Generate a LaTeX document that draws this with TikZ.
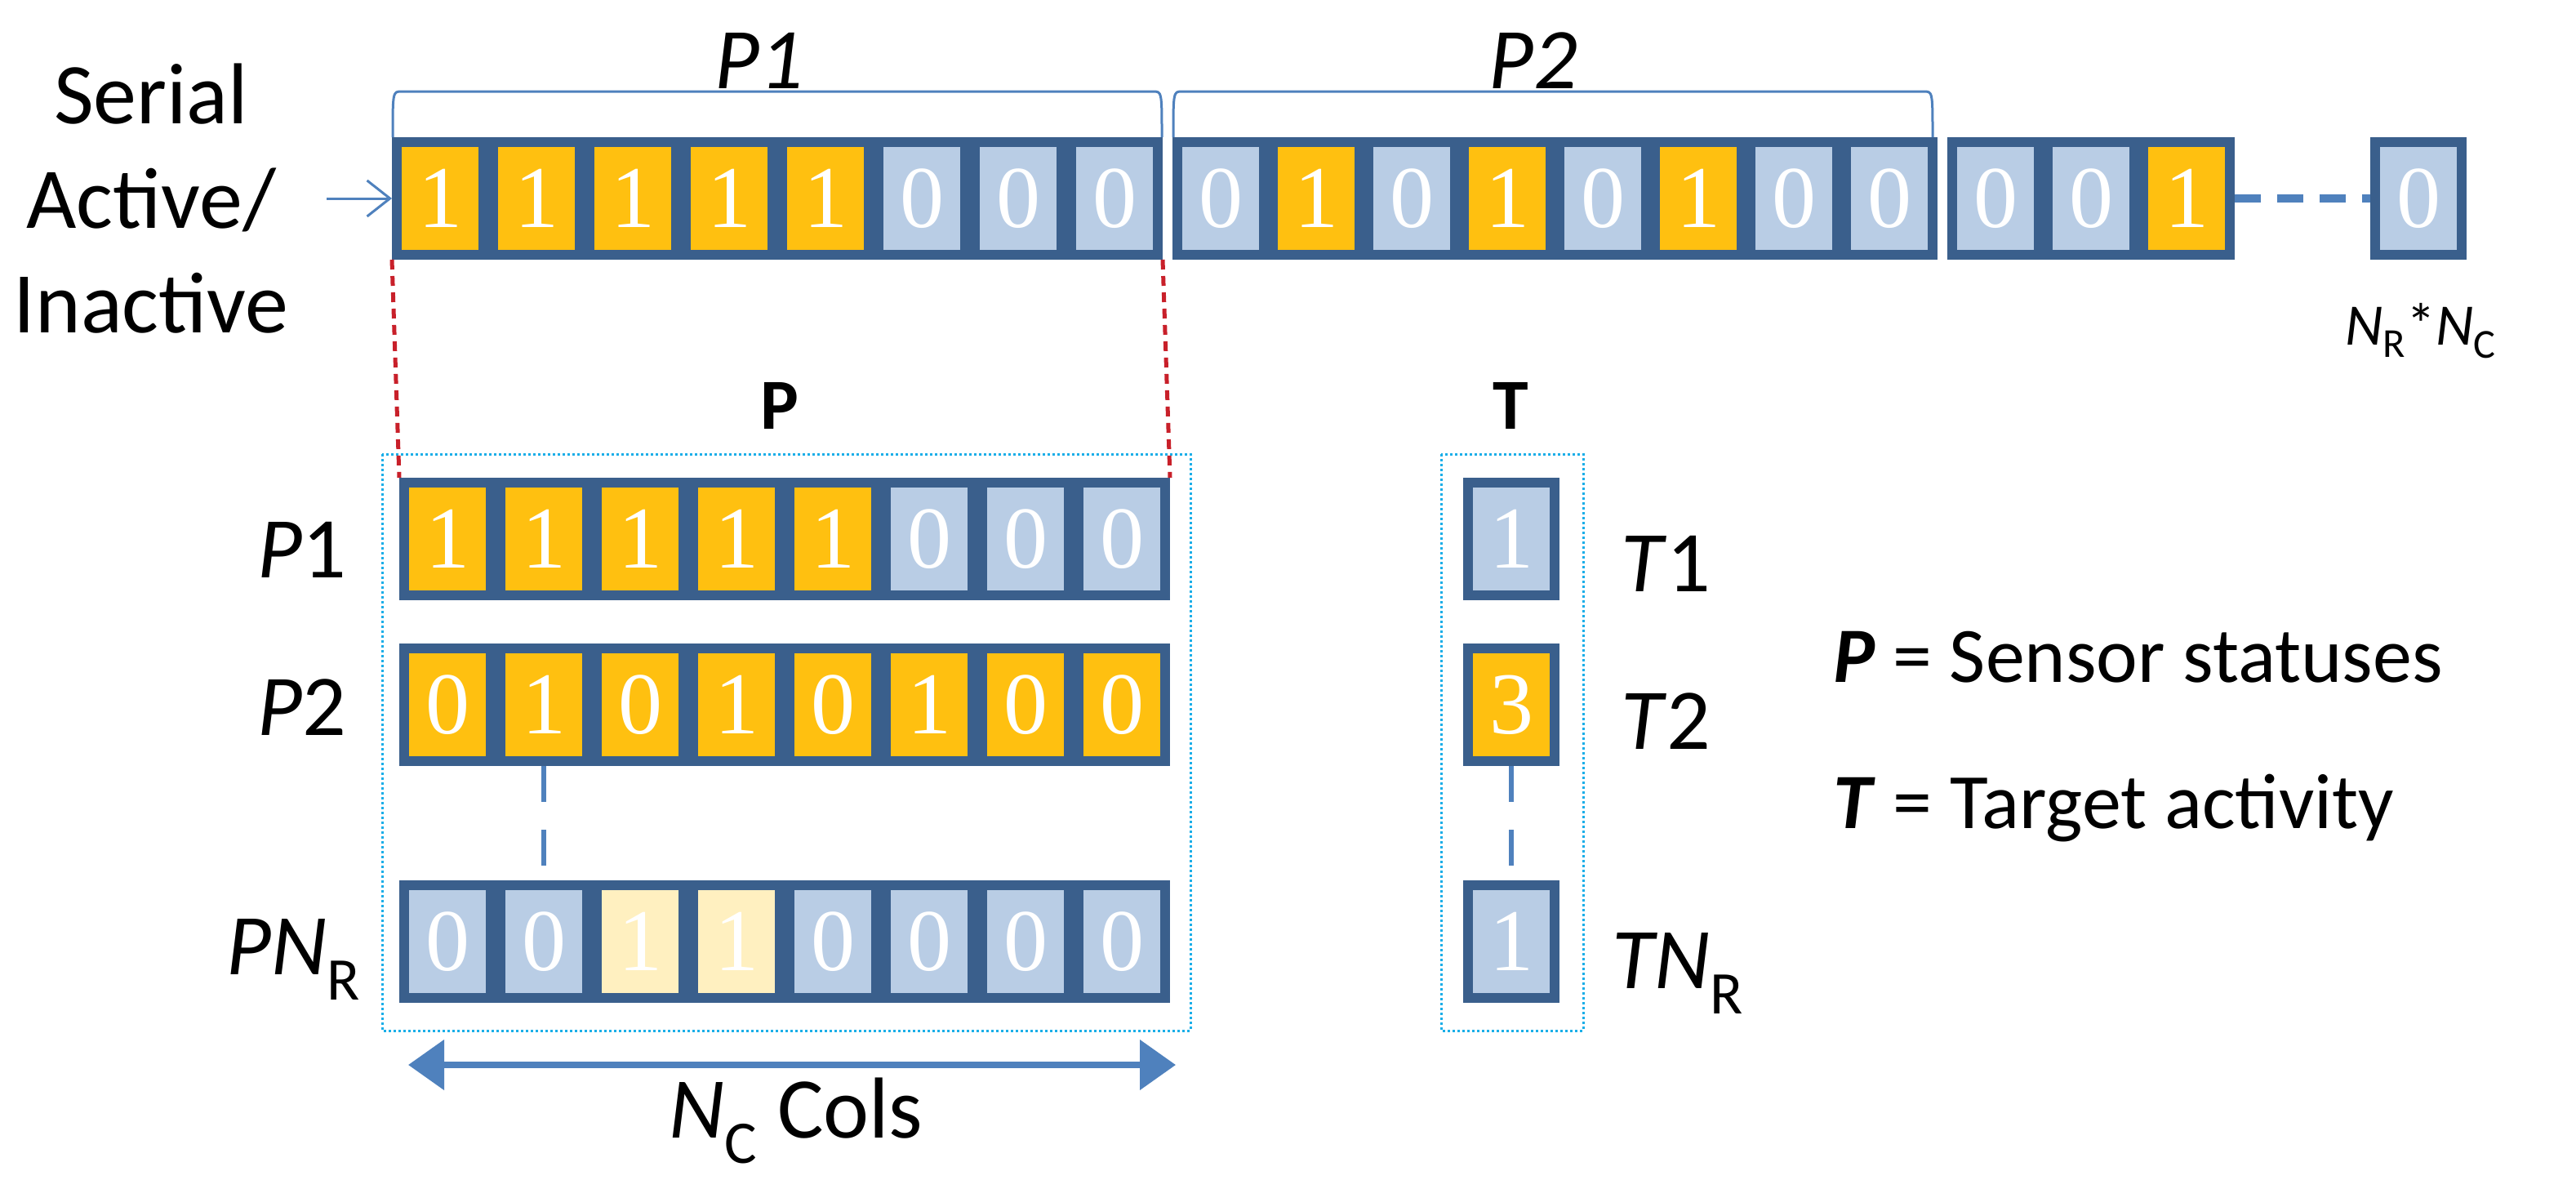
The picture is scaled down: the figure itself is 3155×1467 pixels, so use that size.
\documentclass[tikz,border=0pt]{standalone}
\usepackage{fontspec}
\setmainfont{Carlito}
\newfontfamily\digf{Liberation Serif}
\usetikzlibrary{arrows.meta}
\definecolor{co}{HTML}{FFC010}
\definecolor{cb}{HTML}{B9CDE5}
\definecolor{cy}{HTML}{FFF0C0}
\definecolor{bd}{HTML}{3A5F8C}
\definecolor{ln}{HTML}{4F81BD}
\definecolor{cy2}{HTML}{1AAEE8}
\definecolor{rd}{HTML}{C8202A}
\begin{document}
\begin{tikzpicture}[x=0.5pt,y=-0.5pt,
  cell/.style={draw=bd, line width=6pt, minimum width=53pt, minimum height=69pt, inner sep=0pt, text=white, font=\digf\fontsize{54}{54}\selectfont},
  lbl/.style={font=\fontsize{53}{60}\selectfont, inner sep=0pt},
  brc/.style={draw=ln, line width=1.5pt},
  reddot/.style={draw=rd, line width=2.5pt, dash pattern=on 6pt off 4pt},
  box/.style={draw=cy2, line width=1.5pt, dash pattern=on 1.5pt off 1.5pt},
  vdash/.style={draw=ln, line width=3pt, dash pattern=on 22pt off 17pt}]
\useasboundingbox (0,0) rectangle (3155,1467);
% serial row
\foreach \d/\c [count=\i] in {1/co,1/co,1/co,1/co,1/co,0/cb,0/cb,0/cb}
  \node[cell, fill=\c] (a\i) at ({539+118*(\i-1)},243) {\d};
\foreach \d/\c [count=\i] in {0/cb,1/co,0/cb,1/co,0/cb,1/co,0/cb,0/cb}
  \node[cell, fill=\c] (b\i) at ({1495+117*(\i-1)},243) {\d};
\foreach \d/\c [count=\i] in {0/cb,0/cb,1/co}
  \node[cell, fill=\c] (c\i) at ({2444+117*(\i-1)},243) {\d};
\node[cell, fill=cb] (last) at (2962,243) {0};
\draw[draw=ln, line width=5pt, dash pattern=on 16pt off 10pt] (c3.east) -- (last.west);
% braces
\draw[brc] (481,168) .. controls (481,112) .. (492,112) -- (1412,112) .. controls (1423,112) .. (1423,168);
\draw[brc] (1437,168) .. controls (1437,112) .. (1448,112) -- (2356,112) .. controls (2367,112) .. (2367,168);
\node[lbl, font=\itshape\fontsize{53}{60}\selectfont] (lp1) at (930,74) {P1};
\node[lbl, font=\itshape\fontsize{53}{60}\selectfont] (lp2) at (1878,74) {P2};
% serial label
\node[lbl, align=center, font=\fontsize{53}{64}\selectfont] (ser) at (185,243) {Serial\\Active/\\Inactive};
\coordinate (ain) at (400,243);
\draw[draw=ln, line width=1.5pt, -{Straight Barb[length=14pt,width=22pt]}] (ain) -- (a1.west);
\node[lbl, font=\fontsize{36}{40}\selectfont] (nrnc) at (2965,405) {\textit{N}\textsubscript{R}*\textit{N}\textsubscript{C}};
% matrix P
\foreach \d/\c [count=\i] in {1/co,1/co,1/co,1/co,1/co,0/cb,0/cb,0/cb}
  \node[cell, fill=\c] (p\i) at ({548+118*(\i-1)},660) {\d};
\foreach \d/\c [count=\i] in {0/co,1/co,0/co,1/co,0/co,1/co,0/co,0/co}
  \node[cell, fill=\c] (q\i) at ({548+118*(\i-1)},863) {\d};
\foreach \d/\c [count=\i] in {0/cb,0/cb,1/cy,1/cy,0/cb,0/cb,0/cb,0/cb}
  \node[cell, fill=\c] (r\i) at ({548+118*(\i-1)},1153) {\d};
\draw[vdash] (q2.south) -- (r2.north);
\draw[box] (468,556) rectangle (1458,1262);
\node[lbl, font=\bfseries\fontsize{44}{50}\selectfont] (bp) at (955,497) {P};
\draw[reddot] (a1.south west) -- (p1.north west);
\draw[reddot] (a8.south east) -- (p8.north east);
\node[lbl, font=\fontsize{53}{60}\selectfont] (l1) at (370,673) {\textit{P}1};
\node[lbl, font=\fontsize{53}{60}\selectfont] (l2) at (370,866) {\textit{P}2};
\node[lbl, font=\fontsize{53}{60}\selectfont] (l3) at (360,1175) {\textit{PN}\textsubscript{R}};
\draw[draw=ln, line width=4pt, {Triangle[length=22pt,width=30pt]}-{Triangle[length=22pt,width=30pt]}] (500,1304) coordinate (aw1) -- (1440,1304) coordinate (aw2);
\node[lbl, font=\fontsize{53}{60}\selectfont] (nc) at (975,1372) {\textit{N}\textsubscript{C} Cols};
% matrix T
\node[cell, fill=cb] (t1) at (1851,660) {1};
\node[cell, fill=co] (t2) at (1851,863) {3};
\node[cell, fill=cb] (t3) at (1851,1153) {1};
\draw[vdash] (t2.south) -- (t3.north);
\draw[box] (1765,556) rectangle (1939,1262);
\node[lbl, font=\bfseries\fontsize{44}{50}\selectfont] (bt) at (1850,497) {T};
\node[lbl] (tl1) at (2040,690) {\textit{T}1};
\node[lbl] (tl2) at (2040,883) {\textit{T}2};
\node[lbl] (tl3) at (2055,1192) {\textit{TN}\textsubscript{R}};
% legend
\node[lbl, anchor=west, font=\fontsize{48}{54}\selectfont] (lg1) at (2245,805) {\textbf{\textit{P}} = Sensor statuses};
\node[lbl, anchor=west, font=\fontsize{48}{54}\selectfont] (lg2) at (2245,990) {\textbf{\textit{T}} = Target activity};
\end{tikzpicture}
\end{document}
